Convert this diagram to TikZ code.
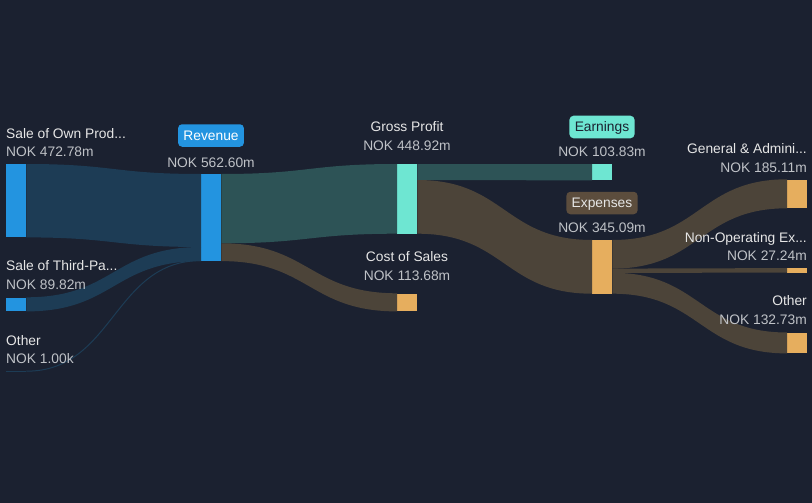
\documentclass[tikz,border=0pt]{standalone}
\usepackage{fontspec}
\setmainfont{Liberation Sans}
\usetikzlibrary{calc}
\definecolor{bg}{HTML}{1B2130}
\definecolor{nodeblue}{HTML}{2394E0}
\definecolor{nodeteal}{HTML}{6EE6D2}
\definecolor{nodeorange}{HTML}{E6AE5E}
\definecolor{linkblue}{HTML}{1D3C55}
\definecolor{linkteal}{HTML}{2D5356}
\definecolor{linkbrown}{HTML}{4C4439}
\definecolor{boxbrown}{HTML}{5C4D3D}
\definecolor{namecol}{HTML}{E6E6E6}
\definecolor{valcol}{HTML}{BFC2C7}
\newcommand\flowband[5]{%
  \fill[#1] #2 .. controls +(87.5,0) and +(-87.5,0) .. #4 -- #5
    .. controls +(-87.5,0) and +(87.5,0) .. #3 -- cycle;}
\begin{document}
\begin{tikzpicture}[x=1pt,y=-1pt,
  bar/.style={draw=none, inner sep=0pt, minimum width=20pt, anchor=north west},
  lbl/.style={inner sep=0pt, font=\fontsize{13.8}{16}\selectfont},
  nm/.style={lbl, text=namecol},
  vl/.style={lbl, text=valcol},
  tag/.style={lbl, rounded corners=4pt, text height=9.9pt, text depth=0pt, inner ysep=6.3pt, inner xsep=5.3pt}]
\useasboundingbox (0,0) rectangle (812,503);
\fill[bg] (0,0) rectangle (812,503);
% nodes
\node[bar, fill=nodeblue, minimum height=73pt] (own) at (6,164) {};
\node[bar, fill=nodeblue, minimum height=13.7pt] (third) at (6,297.3) {};
\node[bar, fill=linkblue, minimum height=1pt] (oth) at (6,370.5) {};
\node[bar, fill=nodeblue, minimum height=86.7pt] (rev) at (201,174) {};
\node[bar, fill=nodeteal, minimum height=69.3pt] (gp) at (397,164) {};
\node[bar, fill=nodeorange, minimum height=17.7pt] (cos) at (397,293.3) {};
\node[bar, fill=nodeteal, minimum height=16pt] (earn) at (592,164) {};
\node[bar, fill=nodeorange, minimum height=53.3pt] (exp) at (592,240) {};
\node[bar, fill=nodeorange, minimum height=28.6pt] (ga) at (787,179.3) {};
\node[bar, fill=nodeorange, minimum height=4.2pt] (nonop) at (787,268.1) {};
\node[bar, fill=nodeorange, minimum height=20.5pt] (oex) at (787,332.5) {};
% links
\flowband{linkblue}{(own.north east)}{(own.south east)}{(rev.north west)}{($(rev.north west)+(0,73)$)}
\flowband{linkblue}{(third.north east)}{(third.south east)}{($(rev.north west)+(0,73)$)}{(rev.south west)}
\draw[linkblue, line width=1pt] (oth.east) .. controls +(87.5,0) and +(-87.5,0) .. ($(rev.south west)+(0,-0.5)$);
\flowband{linkteal}{(rev.north east)}{($(rev.north east)+(0,69.3)$)}{(gp.north west)}{(gp.south west)}
\flowband{linkbrown}{($(rev.north east)+(0,69.3)$)}{(rev.south east)}{(cos.north west)}{(cos.south west)}
\flowband{linkteal}{(gp.north east)}{($(gp.north east)+(0,16)$)}{(earn.north west)}{(earn.south west)}
\flowband{linkbrown}{($(gp.north east)+(0,16)$)}{(gp.south east)}{(exp.north west)}{(exp.south west)}
\flowband{linkbrown}{(exp.north east)}{($(exp.north east)+(0,28.6)$)}{(ga.north west)}{(ga.south west)}
\flowband{linkbrown}{($(exp.north east)+(0,28.6)$)}{($(exp.north east)+(0,32.8)$)}{(nonop.north west)}{(nonop.south west)}
\flowband{linkbrown}{($(exp.north east)+(0,32.8)$)}{(exp.south east)}{(oex.north west)}{(oex.south west)}
% labels left
\node[nm, anchor=base west] (ownN) at (6,138.5) {Sale of Own Prod...};
\node[vl, anchor=base west] (ownV) at (6,157) {NOK 472.78m};
\node[nm, anchor=base west] (thirdN) at (6,270.7) {Sale of Third-Pa...};
\node[vl, anchor=base west] (thirdV) at (6,289) {NOK 89.82m};
\node[nm, anchor=base west] (othN) at (6,345) {Other};
\node[vl, anchor=base west] (othV) at (6,363.3) {NOK 1.00k};
% revenue
\node[tag, fill=nodeblue, text=white] (revT) at (211,135.5) {Revenue};
\node[vl, anchor=base] (revV) at (211,167.3) {NOK 562.60m};
% gross profit & cost of sales
\node[nm, anchor=base] (gpN) at (407,131.7) {Gross Profit};
\node[vl, anchor=base] (gpV) at (407,150.7) {NOK 448.92m};
\node[nm, anchor=base] (cosN) at (407,261.7) {Cost of Sales};
\node[vl, anchor=base] (cosV) at (407,280.7) {NOK 113.68m};
% earnings & expenses
\node[tag, fill=nodeteal, text=bg] (earnT) at (602,127) {Earnings};
\node[vl, anchor=base] (earnV) at (602,156) {NOK 103.83m};
\node[tag, fill=boxbrown, text=namecol] (expT) at (602,203) {Expenses};
\node[vl, anchor=base] (expV) at (602,232.7) {NOK 345.09m};
% right labels
\node[nm, anchor=base east] (gaN) at (807,153.3) {General \& Admini...};
\node[vl, anchor=base east] (gaV) at (807,172) {NOK 185.11m};
\node[nm, anchor=base east] (nonopN) at (807,242) {Non-Operating Ex...};
\node[vl, anchor=base east] (nonopV) at (807,260.7) {NOK 27.24m};
\node[nm, anchor=base east] (oexN) at (807,305.7) {Other};
\node[vl, anchor=base east] (oexV) at (807,324) {NOK 132.73m};
\end{tikzpicture}
\end{document}
